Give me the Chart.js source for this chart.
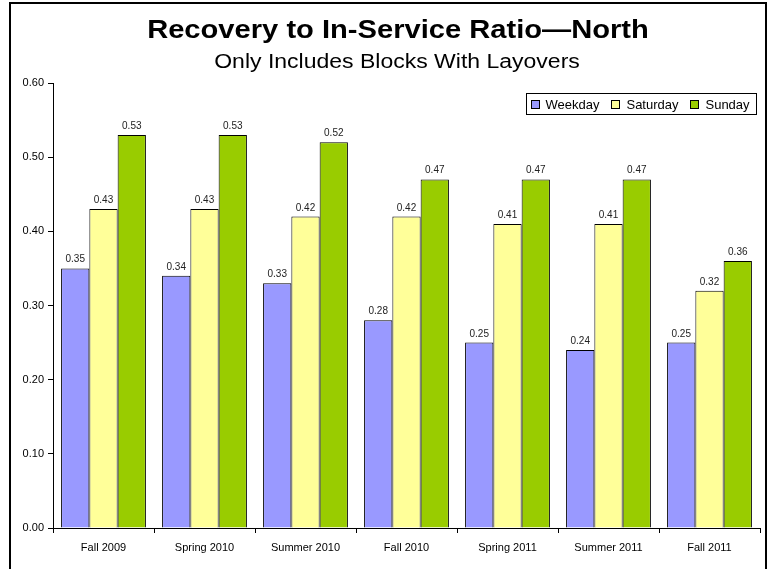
<!DOCTYPE html>
<html>
<head>
<meta charset="utf-8">
<script src="https://cdn.jsdelivr.net/npm/chart.js@4"></script>
<style>
    html, body { margin: 0; padding: 0; background: #fff; overflow: hidden; }
    #wrap { position: relative; width: 770px; height: 569px; }
    #frame { position: absolute; left: 9px; top: 2px; width: 754px; height: 620px; border: 2px solid #000; pointer-events: none; }
</style>
</head>
<body>
<div id="wrap">
    <canvas id="ratioChart" width="770" height="569"></canvas>
    <div id="frame"></div>
</div>
<script>
const periods = ['Fall 2009', 'Spring 2010', 'Summer 2010', 'Fall 2010', 'Spring 2011', 'Summer 2011', 'Fall 2011'];
const weekday = [0.35, 0.34, 0.33, 0.28, 0.25, 0.24, 0.25];
const saturday = [0.43, 0.43, 0.42, 0.42, 0.41, 0.41, 0.32];
const sunday = [0.53, 0.53, 0.52, 0.47, 0.47, 0.47, 0.36];
const yTicks = [0, 0.1, 0.2, 0.3, 0.4, 0.5, 0.6];

const FONT = '"Liberation Sans", Arial, sans-serif';

// draw text centred at x, stretched horizontally (source font is wider than Arial)
function wideText(ctx, text, x, y, stretch) {
    ctx.save();
    ctx.translate(x, y);
    ctx.scale(stretch, 1);
    ctx.fillText(text, 0, 0);
    ctx.restore();
}

// Title, subtitle, value labels and boxed legend
const decorPlugin = {
    id: 'decor',
    afterDatasetsDraw(chart) {
        const ctx = chart.ctx;
        ctx.save();

        // Titles
        ctx.fillStyle = '#000';
        ctx.textAlign = 'center';
        ctx.textBaseline = 'alphabetic';
        ctx.font = 'bold 25px ' + FONT;
        wideText(ctx, 'Recovery to In-Service Ratio\u2014North', 398, 38, 1.165);
        ctx.font = '20px ' + FONT;
        wideText(ctx, 'Only Includes Blocks With Layovers', 397, 68, 1.15);

        // Value labels
        ctx.font = '10px ' + FONT;
        ctx.fillStyle = '#222';
        chart.data.datasets.forEach((ds, i) => {
            chart.getDatasetMeta(i).data.forEach((bar, j) => {
                ctx.fillText(ds.data[j].toFixed(2), bar.x, bar.y - 6);
            });
        });

        // Legend
        ctx.font = '13px ' + FONT;
        ctx.textAlign = 'left';
        ctx.textBaseline = 'middle';
        const box = 8, gap = 7, spacing = 12, padL = 4, padR = 7;
        let total = padL + padR;
        const widths = chart.data.datasets.map(ds => ctx.measureText(ds.label).width);
        widths.forEach((w, i) => { total += box + gap + w + (i < widths.length - 1 ? spacing : 0); });
        const right = 756.5, top = 93.5, h = 21;
        const left = Math.round(right - total) + 0.5;
        ctx.fillStyle = '#fff';
        ctx.fillRect(left, top, right - left, h);
        ctx.strokeStyle = '#000';
        ctx.lineWidth = 1;
        ctx.strokeRect(left, top, right - left, h);
        let x = left + padL;
        const cy = top + h / 2;
        chart.data.datasets.forEach((ds, i) => {
            ctx.fillStyle = ds.backgroundColor;
            ctx.fillRect(Math.round(x) + 0.5, Math.round(cy - box / 2) + 0.5, box, box);
            ctx.strokeRect(Math.round(x) + 0.5, Math.round(cy - box / 2) + 0.5, box, box);
            x += box + gap;
            ctx.fillStyle = '#000';
            ctx.fillText(ds.label, x, cy + 1);
            x += widths[i] + spacing;
        });
        ctx.restore();
    }
};

new Chart(document.getElementById('ratioChart'), {
    type: 'bar',
    data: {
        labels: periods,
        datasets: [
            { label: 'Weekday', data: weekday, backgroundColor: '#9999FF' },
            { label: 'Saturday', data: saturday, backgroundColor: '#FFFF99' },
            { label: 'Sunday', data: sunday, backgroundColor: '#99CC00' }
        ].map(d => ({ ...d, borderColor: '#000', borderWidth: 1, barPercentage: 1, categoryPercentage: 0.84 }))
    },
    options: {
        responsive: false,
        animation: false,
        layout: { padding: { top: 83, left: 13, right: 10, bottom: 0 } },
        plugins: {
            legend: { display: false },
            title: { display: false },
            tooltip: { enabled: false }
        },
        scales: {
            x: {
                grid: { drawOnChartArea: false, drawTicks: true, tickLength: 5, color: '#000', offset: true },
                border: { color: '#000', width: 1 },
                ticks: { color: '#000', font: { family: FONT, size: 11 }, padding: 8, maxRotation: 0 },
                afterFit: s => { s.height = 41; }
            },
            y: {
                min: 0,
                max: 0.6,
                afterBuildTicks: s => { s.ticks = yTicks.map(v => ({ value: v })); },
                grid: { drawOnChartArea: false, drawTicks: true, tickLength: 5, color: '#000' },
                border: { color: '#000', width: 1 },
                ticks: { color: '#000', font: { family: FONT, size: 11 }, padding: 4, callback: v => Number(v).toFixed(2) },
                afterFit: s => { s.width = 40; }
            }
        }
    },
    plugins: [decorPlugin]
});
</script>
</body>
</html>
